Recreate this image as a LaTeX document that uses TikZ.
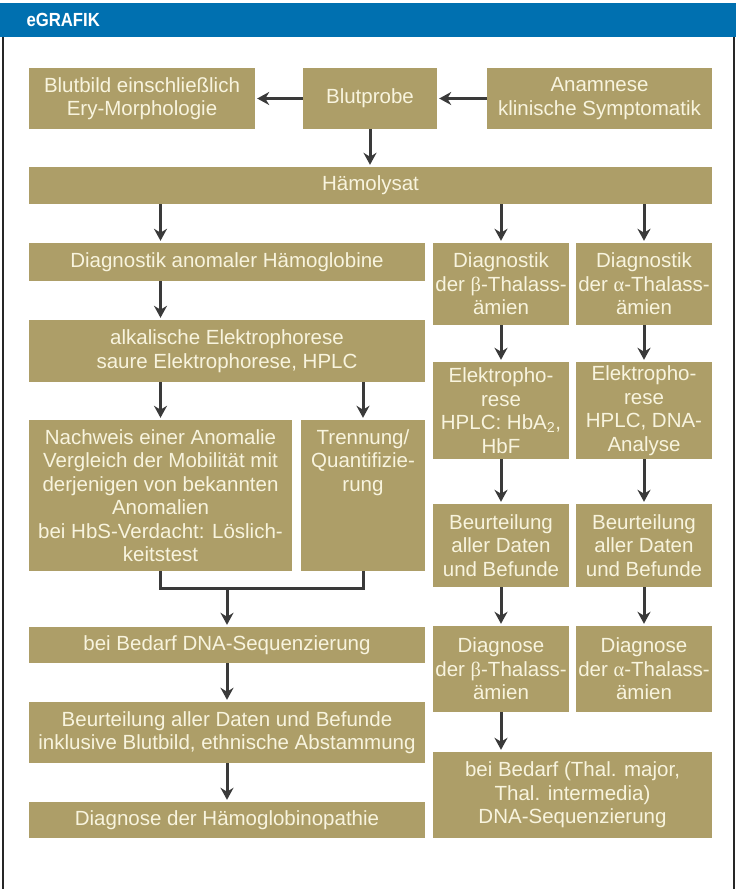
\documentclass[tikz,border=0pt]{standalone}
\usepackage{fontspec}
\setmainfont{Liberation Sans}
\newfontfamily\headfont{Liberation Sans}[FakeStretch=0.88]
\newfontfamily\greekfont{Liberation Serif}
\usetikzlibrary{arrows.meta}
\definecolor{khaki}{RGB}{173,158,104}
\definecolor{cream}{RGB}{248,244,222}
\definecolor{arrowgray}{RGB}{58,58,58}
\definecolor{headblue}{RGB}{0,112,176}
\newcommand{\gbeta}{{\greekfont β}}
\newcommand{\galpha}{{\greekfont α}}
\begin{document}
\begin{tikzpicture}[x=1pt, y=-1pt, >={Stealth[length=12pt,width=13pt]},
    box/.style={fill=khaki, text=cream, align=center, inner xsep=1pt, inner ysep=2pt,
      font=\fontsize{20.5}{23.5}\selectfont},
    flow/.style={->, draw=arrowgray, line width=3pt, shorten >=2pt},
    joint/.style={draw=arrowgray, line width=3pt}]
            \useasboundingbox (0,0) rectangle (736,889);
            % Header and frame
            \fill[headblue] (0,3) rectangle (736,37);
            \node[anchor=west, text=white, font=\headfont\bfseries\fontsize{19}{19}\selectfont] (title) at (23,20) {eGRAFIK};
            \draw[line width=2pt, black!85] (3,37) -- (3,889);
            \draw[line width=2pt, black!85] (734,37) -- (734,889);
            % Top row
            \node[box, minimum width=226pt, minimum height=61pt] (blutbild) at (142,98.5) {Blutbild einschließlich\\Ery-Morphologie};
            \node[box, minimum width=134pt, minimum height=61pt] (blutprobe) at (370,98.5) {Blutprobe};
            \node[box, minimum width=225pt, minimum height=61pt] (anamnese) at (599.5,98.5) {Anamnese\\klinische Symptomatik};
            \node[box, minimum width=683pt, minimum height=37pt] (haemo) at (370.5,185.5) {Hämolysat};
            % Left column: anomale Hämoglobine
            \node[box, minimum width=396pt, minimum height=38pt] (anomal) at (227,262) {Diagnostik anomaler Hämoglobine};
            \node[box, minimum width=396pt, minimum height=62pt] (alkal) at (227,351) {alkalische Elektrophorese\\saure Elektrophorese, HPLC};
            \node[box, minimum width=263pt, minimum height=151pt] (nachweis) at (160.5,495.5) {Nachweis einer Anomalie\\Vergleich der Mobilität mit\\derjenigen von bekannten\\Anomalien\\bei HbS-Verdacht: Löslich-\\keitstest};
            \node[box, minimum width=124pt, minimum height=151pt] (trenn) at (363,495.5) {Trennung/\\Quantifizie-\\rung\\~\\~\\~};
            \node[box, minimum width=396pt, minimum height=36pt] (dnaseq) at (227,645) {bei Bedarf DNA-Sequenzierung};
            \node[box, minimum width=396pt, minimum height=61pt] (beurteil) at (227,732.5) {Beurteilung aller Daten und Befunde\\inklusive Blutbild, ethnische Abstammung};
            \node[box, minimum width=396pt, minimum height=36pt] (diagnhb) at (227,820) {Diagnose der Hämoglobinopathie};
            % beta column
            \node[box, minimum width=136pt, minimum height=82pt] (betadiag) at (501,284) {Diagnostik\\der \gbeta-Thalass-\\ämien};
            \node[box, minimum width=136pt, minimum height=97pt] (betael) at (501,410.5) {Elektropho-\\rese\\HPLC: HbA\textsubscript{2},\\HbF};
            \node[box, minimum width=136pt, minimum height=83pt] (betabeur) at (501,545.5) {Beurteilung\\aller Daten\\und Befunde};
            \node[box, minimum width=136pt, minimum height=86pt] (betadiagn) at (501,669) {Diagnose\\der \gbeta-Thalass-\\ämien};
            \node[box, minimum width=279pt, minimum height=86pt] (thal) at (572.5,795) {bei Bedarf (Thal. major,\\Thal. intermedia)\\DNA-Sequenzierung};
            % alpha column
            \node[box, minimum width=136pt, minimum height=82pt] (alphadiag) at (644,284) {Diagnostik\\der \galpha-Thalass-\\ämien};
            \node[box, minimum width=136pt, minimum height=97pt] (alphael) at (644,410.5) {Elektropho-\\rese\\HPLC, DNA-\\Analyse};
            \node[box, minimum width=136pt, minimum height=83pt] (alphabeur) at (644,545.5) {Beurteilung\\aller Daten\\und Befunde};
            \node[box, minimum width=136pt, minimum height=86pt] (alphadiagn) at (644,669) {Diagnose\\der \galpha-Thalass-\\ämien};
            % Arrows
            \draw[flow] (blutprobe) -- (blutbild);
            \draw[flow] (anamnese) -- (blutprobe);
            \draw[flow] (blutprobe) -- (blutprobe |- haemo.north);
            \draw[flow] (haemo.south -| nachweis) -- (anomal.north -| nachweis);
            \draw[flow] (anomal.south -| nachweis) -- (alkal.north -| nachweis);
            \draw[flow] (alkal.south -| nachweis) -- (nachweis);
            \draw[flow] (alkal.south -| trenn) -- (trenn);
            \coordinate (knot) at (227,588); % join below both boxes
            \draw[joint] (nachweis.south) |- (knot) -| (trenn.south);
            \draw[flow] (knot) -- (dnaseq);
            \draw[flow] (dnaseq) -- (beurteil);
            \draw[flow] (beurteil) -- (diagnhb);
            \draw[flow] (haemo.south -| betadiag) -- (betadiag);
            \draw[flow] (betadiag) -- (betael);
            \draw[flow] (betael) -- (betabeur);
            \draw[flow] (betabeur) -- (betadiagn);
            \draw[flow] (betadiagn) -- (betadiagn |- thal.north);
            \draw[flow] (haemo.south -| alphadiag) -- (alphadiag);
            \draw[flow] (alphadiag) -- (alphael);
            \draw[flow] (alphael) -- (alphabeur);
            \draw[flow] (alphabeur) -- (alphadiagn);
        \end{tikzpicture}
\end{document}
